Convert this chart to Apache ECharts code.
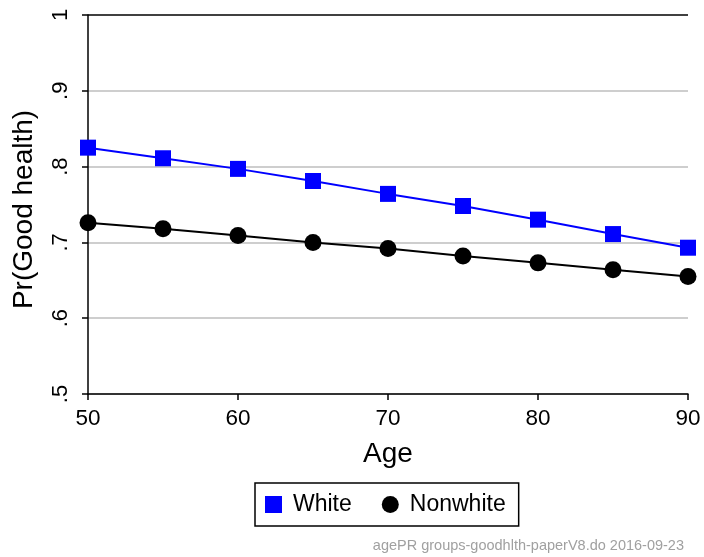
<!DOCTYPE html>
<html><head><meta charset="utf-8">
<script src="https://cdn.jsdelivr.net/npm/echarts@6/dist/echarts.min.js"></script>
<style>html,body{margin:0;padding:0;background:#fff}#c{width:704px;height:557px}</style>
</head><body><div id="c"></div>
<script>
const ages = [50, 55, 60, 65, 70, 75, 80, 85, 90];
const white = [0.825, 0.811, 0.797, 0.781, 0.764, 0.748, 0.730, 0.711, 0.693];
const nonwhite = [0.726, 0.718, 0.709, 0.700, 0.692, 0.682, 0.673, 0.664, 0.655];
const yTickLabels = {0.5: '.5', 0.6: '.6', 0.7: '.7', 0.8: '.8', 0.9: '.9', 1: '1'};
const noteText = 'agePR groups-goodhlth-paperV8.do 2016-09-23';

const font = 'Liberation Sans, Arial, sans-serif';
const chart = echarts.init(document.getElementById('c'));
chart.setOption({
  backgroundColor: '#fff',
  animation: false,
  textStyle: {fontFamily: font},
  grid: {left: 88, right: 16, top: 15, bottom: 163, containLabel: false, outerBoundsMode: 'none'},
  xAxis: {
    type: 'value', min: 50, max: 90, interval: 10,
    name: 'Age', nameLocation: 'middle', nameGap: 46,
    nameTextStyle: {fontSize: 28, color: '#000', fontFamily: font},
    axisLine: {lineStyle: {color: '#000', width: 1.5}},
    axisTick: {length: 6, lineStyle: {color: '#000', width: 1.5}},
    axisLabel: {fontSize: 22.5, color: '#000', margin: 13, fontFamily: font},
    splitLine: {show: false}
  },
  yAxis: {
    type: 'value', min: 0.5, max: 1, interval: 0.1,
    name: 'Pr(Good health)', nameLocation: 'middle', nameGap: 50,
    nameTextStyle: {fontSize: 28, color: '#000', fontFamily: font, padding: [0, 10, 0, 0]},
    axisLine: {show: true, lineStyle: {color: '#000', width: 1.5}},
    axisTick: {show: true, length: 6, lineStyle: {color: '#000', width: 1.5}},
    axisLabel: {fontSize: 22, color: '#000', rotate: 90, margin: 16, fontFamily: font,
      formatter: v => yTickLabels[Math.round(v * 10) / 10] || ''},
    splitLine: {show: true, lineStyle: {color: ['#bebebe','#bebebe','#bebebe','#bebebe','#bebebe','#000'], width: 1.5}}
  },
  legend: {
    left: 255, top: 483,
    itemGap: 30, itemWidth: 17, itemHeight: 17,
    padding: [10, 13, 10, 10],
    borderColor: '#000', borderWidth: 1.5,
    formatter: n => '{s|}' + n,
    textStyle: {fontSize: 23, color: '#000', fontFamily: font,
      rich: {s: {width: 6}}},
    data: [{name: 'White', icon: 'rect'}, {name: 'Nonwhite', icon: 'circle'}]
  },
  graphic: [{
    type: 'text', right: 20, bottom: 4,
    style: {text: noteText, fontSize: 14.5, fill: '#a0a0a0', fontFamily: font}
  }],
  series: [
    {name: 'White', type: 'line', data: ages.map((a, i) => [a, white[i]]),
     symbol: 'rect', symbolSize: 16, color: '#0000ff',
     lineStyle: {color: '#0000ff', width: 2}, itemStyle: {color: '#0000ff'}},
    {name: 'Nonwhite', type: 'line', data: ages.map((a, i) => [a, nonwhite[i]]),
     symbol: 'circle', symbolSize: 17, color: '#000',
     lineStyle: {color: '#000', width: 2}, itemStyle: {color: '#000'}}
  ]
});
</script></body></html>
